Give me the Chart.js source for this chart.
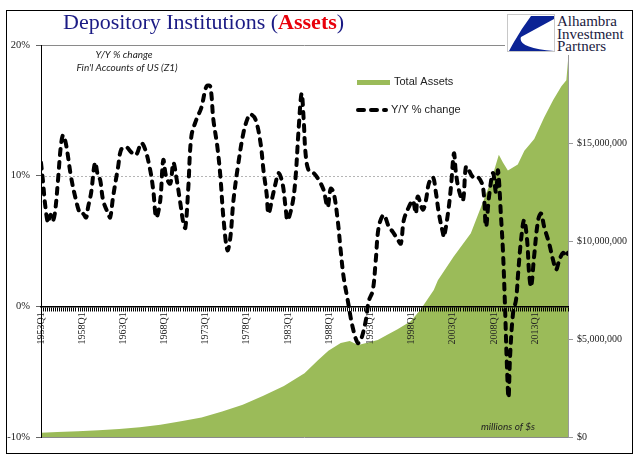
<!DOCTYPE html>
<html>
<head>
<meta charset="utf-8">
<script src="https://cdn.jsdelivr.net/npm/chart.js@4.4.0/dist/chart.umd.min.js"></script>
<style>
  html, body { margin: 0; padding: 0; background: #fff; }
  #wrap { position: relative; width: 641px; height: 461px; overflow: hidden; }
  #frame { position: absolute; left: 6px; top: 10px; width: 627px; height: 444px; border: 1px solid #000; box-sizing: border-box; pointer-events: none; }
  #title { position: absolute; left: 63px; top: 11px; font-family: "Liberation Serif", serif; font-size: 22px; line-height: 22px; color: #1b1b85; white-space: nowrap; }
  #title b { color: #e8000b; }
  #logo { position: absolute; left: 505px; top: 12px; width: 126px; height: 43px; background: #fff; }
  #logo svg { position: absolute; left: 0; top: 0; }
  #logo .txt { position: absolute; left: 52px; top: 3px; font-family: "Liberation Serif", serif; font-size: 15px; line-height: 12.6px; color: #1a1a40; white-space: nowrap; }
</style>
</head>
<body>
<div id="wrap">
  <canvas id="chart" width="641" height="461"></canvas>
  <div id="title">Depository Institutions (<b>Assets</b>)</div>
  <div id="logo">
    <svg width="52" height="43" viewBox="0 0 52 43">
      <rect x="2.5" y="2.5" width="47" height="37" fill="#fff" stroke="#c8c8c8" stroke-width="1"/>
      <path d="M26,4 L49,4 L49,7 L16,25 Q12,36 49,39 L4,39 Q14,20 26,4 Z" fill="#0b2395"/>
    </svg>
    <div class="txt">Alhambra<br>Investment<br>Partners</div>
  </div>
  <div id="frame"></div>
</div>
<script>
// Y/Y % change (left axis)
const pctYears = [1953.00, 1953.25, 1953.50, 1953.85, 1954.15, 1954.40, 1954.70, 1955.07, 1955.40, 1955.68,
  1956.04, 1956.65, 1957.26, 1957.75, 1958.10, 1958.48, 1958.72, 1959.09, 1959.57, 1959.94,
  1960.18, 1960.55, 1961.15, 1961.40, 1961.76, 1962.37, 1962.74, 1963.35, 1963.95, 1964.56,
  1965.17, 1965.66, 1966.27, 1966.63, 1967.00, 1967.48, 1967.85, 1968.21, 1968.70, 1969.07,
  1969.43, 1969.92, 1970.28, 1970.53, 1970.89, 1971.26, 1971.87, 1972.47, 1972.96, 1973.20,
  1973.57, 1973.93, 1974.42, 1974.79, 1975.15, 1975.64, 1976.00, 1976.37, 1976.98, 1977.59,
  1978.10, 1978.44, 1979.05, 1979.66, 1980.02, 1980.40, 1980.63, 1981.12, 1981.48, 1981.85,
  1982.33, 1982.70, 1982.94, 1983.55, 1983.92, 1984.28, 1984.65, 1984.90, 1985.13, 1985.50,
  1986.11, 1986.71, 1987.32, 1987.81, 1988.18, 1988.54, 1989.03, 1989.39, 1989.76, 1990.24,
  1990.85, 1991.46, 1991.83, 1992.44, 1992.80, 1993.29, 1993.65, 1994.02, 1994.63, 1995.23,
  1995.72, 1996.33, 1996.70, 1997.06, 1997.67, 1998.16, 1998.52, 1998.76, 1999.37, 1999.74,
  2000.10, 2000.59, 2000.96, 2001.32, 2001.81, 2001.93, 2002.42, 2002.78, 2003.15, 2003.39,
  2003.75, 2004.24, 2004.61, 2004.97, 2005.46, 2006.07, 2006.68, 2007.04, 2007.41, 2007.89,
  2008.26, 2008.50, 2008.87, 2009.11, 2009.35, 2009.58, 2009.78, 2009.96, 2010.33, 2010.69,
  2010.94, 2011.30, 2011.67, 2012.03, 2012.28, 2012.52, 2012.88, 2013.37, 2013.73, 2014.10,
  2014.71, 2015.20, 2015.56, 2015.93, 2016.41, 2016.78, 2017.00];
const pctValues = [11.0, 9.5, 7.8, 6.4, 7.0, 6.5, 7.2, 9.7, 12.2, 13.1,
  12.4, 9.9, 8.1, 7.1, 7.1, 6.8, 7.6, 8.7, 11.0, 9.9,
  9.7, 8.1, 7.1, 6.8, 8.4, 10.7, 12.0, 12.2, 11.8, 11.6,
  12.5, 12.0, 10.4, 8.9, 6.8, 8.1, 11.2, 9.9, 9.4, 11.0,
  9.9, 7.9, 6.4, 6.0, 9.1, 13.0, 14.3, 15.2, 16.6, 16.9,
  16.8, 14.3, 12.2, 9.9, 6.8, 4.3, 5.3, 8.1, 11.0, 13.3,
  14.4, 14.7, 14.3, 12.5, 10.4, 8.6, 7.1, 8.4, 9.4, 10.2,
  9.4, 7.6, 6.6, 7.9, 9.9, 13.5, 16.3, 14.3, 11.7, 10.4,
  10.2, 9.7, 8.9, 7.6, 9.0, 8.7, 6.6, 4.3, 2.2, 0.5,
  -1.6, -2.8, -2.6, -1.1, 0.4, 1.2, 3.5, 6.1, 7.0, 6.1,
  5.7, 5.1, 4.8, 6.6, 7.6, 8.1, 7.1, 8.4, 7.4, 8.1,
  9.4, 9.9, 8.7, 7.1, 5.6, 5.3, 7.1, 9.1, 11.7, 10.2,
  8.9, 8.1, 10.7, 10.4, 9.9, 9.9, 9.1, 6.1, 8.4, 10.2,
  8.7, 10.4, 6.8, 4.1, 0.0, -4.5, -7.0, -3.9, -0.5, 0.5,
  2.5, 5.1, 6.6, 5.1, 2.5, 1.5, 3.8, 6.6, 7.1, 6.1,
  4.8, 3.5, 2.8, 3.5, 4.1, 3.8, 4.1];

// Total assets, millions of $ (right axis)
const assetYears = [1953.0, 1955.0, 1957.5, 1960.0, 1962.5, 1965.0, 1967.5, 1970.0, 1972.5, 1975.0,
  1977.5, 1980.0, 1982.5, 1985.0, 1986.6, 1987.9, 1989.4, 1990.5, 1991.5, 1993.0,
  1993.9, 1995.0, 1996.3, 1997.9, 1999.1, 2000.7, 2001.2, 2003.1, 2005.2, 2006.4,
  2007.6, 2008.6, 2009.1, 2009.7, 2010.1, 2010.9, 2011.7, 2012.9, 2014.1, 2015.2,
  2016.2, 2016.8, 2017.0];
const assetValues = [220000, 250000, 290000, 340000, 410000, 500000, 620000, 800000, 1000000, 1300000,
  1650000, 2100000, 2600000, 3250000, 3900000, 4400000, 4800000, 4900000, 4700000, 4850000,
  4950000, 5200000, 5500000, 5900000, 6500000, 7500000, 8000000, 9200000, 10400000, 11700000,
  13000000, 14400000, 14000000, 13600000, 13700000, 13900000, 14600000, 15200000, 16300000, 17200000,
  17900000, 18200000, 19200000];

const xTickLabels = ["1953Q1", "1958Q1", "1963Q1", "1968Q1", "1973Q1", "1978Q1", "1983Q1",
  "1988Q1", "1993Q1", "1998Q1", "2003Q1", "2008Q1", "2013Q1"];

const GREEN = "#9bbb59";

// horizontal guide lines behind the data
const guideLines = {
  id: "guideLines",
  beforeDatasetsDraw(chart) {
    const { ctx, chartArea } = chart;
    const y = chart.scales.y;
    const lines = [
      { v: 20, color: "#8a8a8a", dash: [] },
      { v: 10, color: "#b5b5b5", dash: [2, 2] },
      { v: -10, color: "#8a8a8a", dash: [] }
    ];
    ctx.save();
    lines.forEach(l => {
      const py = Math.round(y.getPixelForValue(l.v)) + 0.5;
      ctx.strokeStyle = l.color;
      ctx.lineWidth = 1;
      ctx.setLineDash(l.dash);
      ctx.beginPath();
      ctx.moveTo(chartArea.left, py);
      ctx.lineTo(chartArea.right, py);
      ctx.stroke();
    });
    ctx.restore();
  }
};

// rotated quarter labels under the 0% line, above the green area
const quarterLabels = {
  id: "quarterLabels",
  afterDatasetDraw(chart, args) {
    if (args.index !== 1) return;
    const { ctx } = chart;
    const x = chart.scales.x;
    const y0 = chart.scales.y.getPixelForValue(0);
    ctx.save();
    ctx.font = "10px 'Liberation Serif'";
    ctx.fillStyle = "#222";
    ctx.textAlign = "right";
    ctx.textBaseline = "middle";
    xTickLabels.forEach(lbl => {
      const px = x.getPixelForValue(parseInt(lbl.slice(0, 4), 10));
      ctx.save();
      ctx.translate(px, y0 + 6);
      ctx.rotate(-Math.PI / 2);
      ctx.fillText(lbl, 0, 0);
      ctx.restore();
    });
    ctx.restore();
  }
};

// legend + notes
const notes = {
  id: "notes",
  afterDraw(chart) {
    const { ctx } = chart;
    const ds = chart.data.datasets;
    ctx.save();
    // legend
    ctx.fillStyle = GREEN;
    ctx.fillRect(357, 80, 33, 5);
    ctx.strokeStyle = "#000";
    ctx.lineWidth = 4;
    ctx.lineCap = "round";
    ctx.setLineDash([6, 7]);
    ctx.beginPath();
    ctx.moveTo(358, 110);
    ctx.lineTo(386, 110);
    ctx.stroke();
    ctx.setLineDash([]);
    ctx.font = "11px 'Liberation Sans'";
    ctx.fillStyle = "#222";
    ctx.textBaseline = "middle";
    ctx.fillText(ds[1].label, 394, 82);
    ctx.fillText(ds[0].label, 391, 110);
    // notes
    ctx.font = "italic 10px Lato";
    ctx.textAlign = "center";
    ctx.fillText("Y/Y % change", 124, 55);
    ctx.fillText("Fin'l Accounts of US (Z1)", 127, 68);
    ctx.fillText("millions of $s", 508, 427);
    ctx.restore();
  }
};

const ctx = document.getElementById("chart").getContext("2d");
new Chart(ctx, {
  type: "line",
  data: {
    datasets: [
      {
        label: "Y/Y % change",
        data: pctYears.map((yr, i) => ({ x: yr, y: pctValues[i] })),
        yAxisID: "y",
        borderColor: "#000",
        borderWidth: 4,
        borderDash: [6, 7],
        borderCapStyle: "round",
        pointRadius: 0,
        tension: 0.35,
        fill: false,
        order: 0
      },
      {
        label: "Total Assets",
        data: assetYears.map((yr, i) => ({ x: yr, y: assetValues[i] })),
        yAxisID: "y1",
        borderColor: GREEN,
        borderWidth: 0,
        backgroundColor: GREEN,
        pointRadius: 0,
        tension: 0,
        fill: "origin",
        order: 1
      }
    ]
  },
  options: {
    responsive: false,
    animation: false,
    devicePixelRatio: 1,
    layout: { padding: { top: 45, bottom: 24, left: 0, right: 0 } },
    plugins: {
      legend: { display: false },
      tooltip: { enabled: false }
    },
    scales: {
      x: {
        type: "linear",
        position: { y: 0 },
        min: 1953,
        max: 2017,
        ticks: { display: false, stepSize: 0.25, autoSkip: false },
        grid: { drawOnChartArea: false, drawTicks: true, tickLength: 4, tickColor: "#000", tickWidth: 1, z: 1 },
        border: { color: "#000", width: 1.5, z: 1 }
      },
      y: {
        position: "left",
        min: -10,
        max: 20,
        ticks: {
          stepSize: 10,
          padding: 6,
          color: "#222",
          font: { family: "'Liberation Serif'", size: 10.5 },
          callback: v => v + "%"
        },
        grid: { drawOnChartArea: false, tickLength: 5, tickColor: "#666" },
        border: { color: "#000", width: 1, z: 1 },
        afterFit: s => { s.width = 41; }
      },
      y1: {
        position: "right",
        min: 0,
        max: 20000000,
        ticks: {
          stepSize: 5000000,
          padding: 4,
          color: "#222",
          font: { family: "'Liberation Serif'", size: 10 },
          callback: v => "$" + v.toLocaleString("en-US")
        },
        grid: { drawOnChartArea: false, tickLength: 5, tickColor: "#999" },
        border: { color: "#9a9a9a", width: 1 },
        afterFit: s => { s.width = 73; }
      }
    }
  },
  plugins: [guideLines, quarterLabels, notes]
});
</script>
</body>
</html>
